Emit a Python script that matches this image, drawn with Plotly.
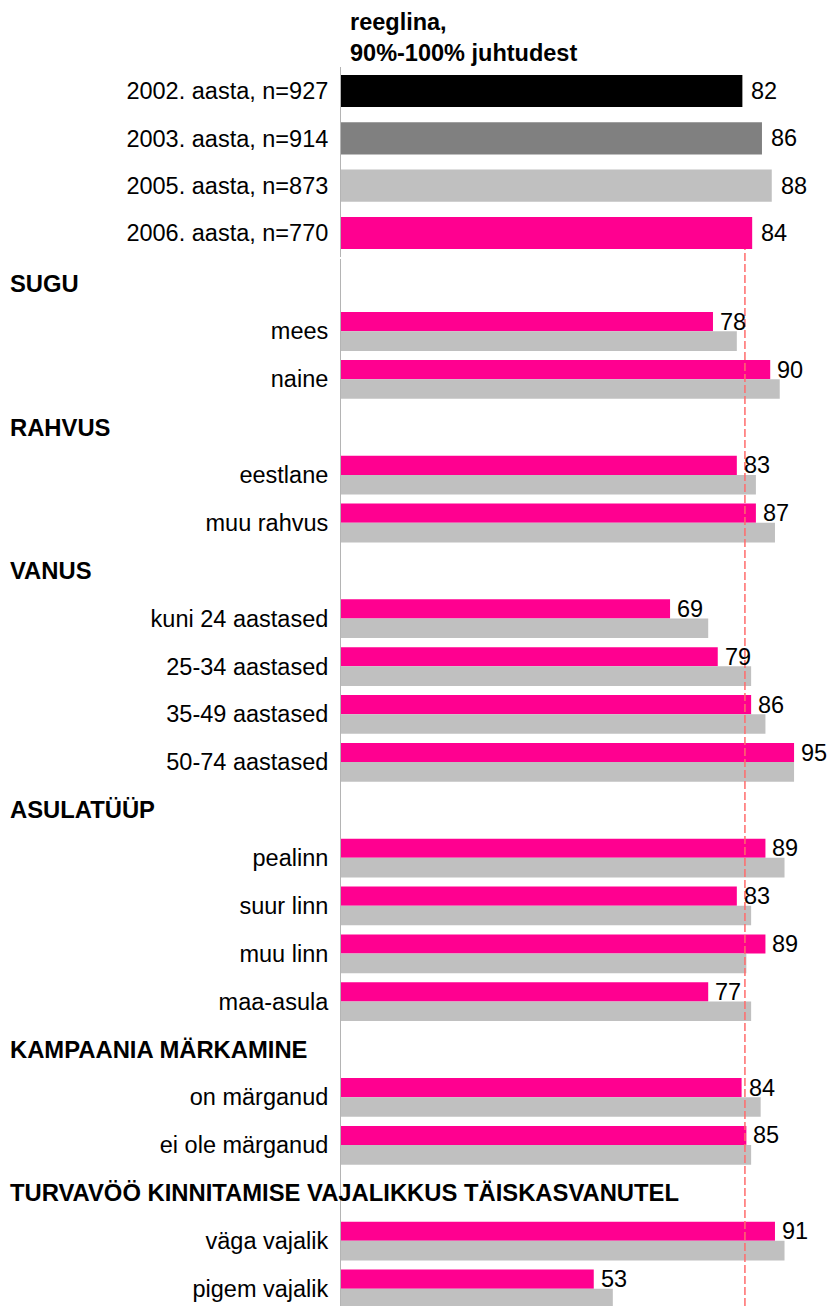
import plotly.graph_objects as go

# ---------------- data ----------------
top_labels = ["2002. aasta, n=927", "2003. aasta, n=914", "2005. aasta, n=873", "2006. aasta, n=770"]
top_values = [82, 86, 88, 84]

rows = ["SUGU", "mees", "naine",
        "RAHVUS", "eestlane", "muu rahvus",
        "VANUS", "kuni 24 aastased", "25-34 aastased", "35-49 aastased", "50-74 aastased",
        "ASULATÜÜP", "pealinn", "suur linn", "muu linn", "maa-asula",
        "KAMPAANIA MÄRKAMINE", "on märganud", "ei ole märganud",
        "TURVAVÖÖ KINNITAMISE VAJALIKKUS TÄISKASVANUTEL", "väga vajalik", "pigem vajalik"]
headers = ["SUGU", "RAHVUS", "VANUS", "ASULATÜÜP", "KAMPAANIA MÄRKAMINE",
           "TURVAVÖÖ KINNITAMISE VAJALIKKUS TÄISKASVANUTEL"]
values_2006 = [None, 78, 90, None, 83, 87, None, 69, 79, 86, 95, None, 89, 83, 89, 77,
               None, 84, 85, None, 91, 53]
values_2005 = [None, 83, 92, None, 87, 91, None, 77, 86, 89, 95, None, 93, 86, 85, 86,
               None, 88, 86, None, 93, 57]
reference_value = 84.7
title_text = "reeglina,<br>90%-100% juhtudest"

# ---------------- style ----------------
W, H = 829, 1306
PINK = "#ff0090"
GRAY = "#c0c0c0"
top_colors = ["#000000", "#808080", "#c0c0c0", PINK]
FONT = "Arial, 'Liberation Sans', sans-serif"
FS = 23.5

def py(px):
    return 1 - px / H

x0_px = 341
top_dom = [py(256.65), py(67.35)]
slot = 47.87
bot_top_px = 283.4 - slot / 2
bot_dom = [0, py(bot_top_px)]
bot_bottom = -0.5 + (H - bot_top_px) / slot

fig = go.Figure()

ytop = list(range(len(top_labels)))
fig.add_trace(go.Bar(
    x=top_values, y=ytop, orientation="h", marker=dict(color=top_colors, line_width=0),
    width=0.68, xaxis="x", yaxis="y", showlegend=False, hoverinfo="x+y"))

yb = list(range(len(rows)))
fig.add_trace(go.Bar(
    x=values_2006, y=yb, orientation="h", marker=dict(color=PINK, line_width=0),
    width=0.4, offset=-0.4, xaxis="x2", yaxis="y2", showlegend=False))
fig.add_trace(go.Bar(
    x=values_2005, y=yb, orientation="h", marker=dict(color=GRAY, line_width=0),
    width=0.41, offset=0, xaxis="x2", yaxis="y2", showlegend=False))

annotations = []
for i, v in enumerate(top_values):
    annotations.append(dict(x=v, y=i, xref="x", yref="y", text=str(v), showarrow=False,
                            xanchor="left", yanchor="middle", xshift=7,
                            font=dict(size=FS, color="black", family=FONT)))
for i, v in enumerate(values_2006):
    if v is not None:
        annotations.append(dict(x=v, y=i - 0.2, xref="x2", yref="y2", text=str(v),
                                showarrow=False, xanchor="left", yanchor="middle", xshift=5,
                                font=dict(size=FS, color="black", family=FONT)))
for i, r in enumerate(rows):
    if r in headers:
        annotations.append(dict(x=8 / W, y=i, xref="paper", yref="y2", text="<b>" + r + "</b>",
                                showarrow=False, xanchor="left", yanchor="middle",
                                font=dict(size=23.8, color="black", family=FONT)))
annotations.append(dict(x=348 / W, y=py(37.5), xref="paper", yref="paper", text="<b>" + title_text + "</b>",
                        showarrow=False, xanchor="left", yanchor="middle", align="left",
                        font=dict(size=FS, color="black", family=FONT)))

ticktext_bot = ["" if r in headers else r for r in rows]

fig.update_layout(
    width=W, height=H, margin=dict(l=0, r=0, t=0, b=0),
    paper_bgcolor="white", plot_bgcolor="white",
    font=dict(family=FONT, size=FS, color="black"),
    barmode="overlay",
    xaxis=dict(domain=[x0_px / W, 1], range=[0, (W - x0_px) / 4.895], anchor="y",
               showgrid=False, zeroline=False, showticklabels=False, showline=False, ticks=""),
    yaxis=dict(domain=top_dom, range=[3.5, -0.5], anchor="x", tickvals=ytop, ticktext=top_labels,
               showgrid=False, zeroline=False, showline=True, linecolor="#b4b4b4", linewidth=1,
               ticks="", ticklabelstandoff=7, tickfont=dict(size=FS)),
    xaxis2=dict(domain=[x0_px / W, 1], range=[0, (W - x0_px) / 4.769], anchor="y2",
                showgrid=False, zeroline=False, showticklabels=False, showline=False, ticks=""),
    yaxis2=dict(domain=bot_dom, range=[bot_bottom, -0.5], anchor="x2", tickvals=yb,
                ticktext=ticktext_bot, showgrid=False, zeroline=False, showline=True,
                linecolor="#b4b4b4", linewidth=1, ticks="", ticklabelstandoff=7,
                tickfont=dict(size=FS)),
    annotations=annotations,
    shapes=[dict(type="line", xref="x2", yref="paper", x0=reference_value, x1=reference_value,
                 y0=0, y1=py(249), line=dict(color="#ff6b6b", width=1.5, dash="8px,3px"),
                 layer="above")],
)

fig.write_html("out.html", config={"displayModeBar": False},
               post_script="document.body.style.margin='0';document.body.style.overflow='hidden';"
                           "document.documentElement.style.overflow='hidden';")
